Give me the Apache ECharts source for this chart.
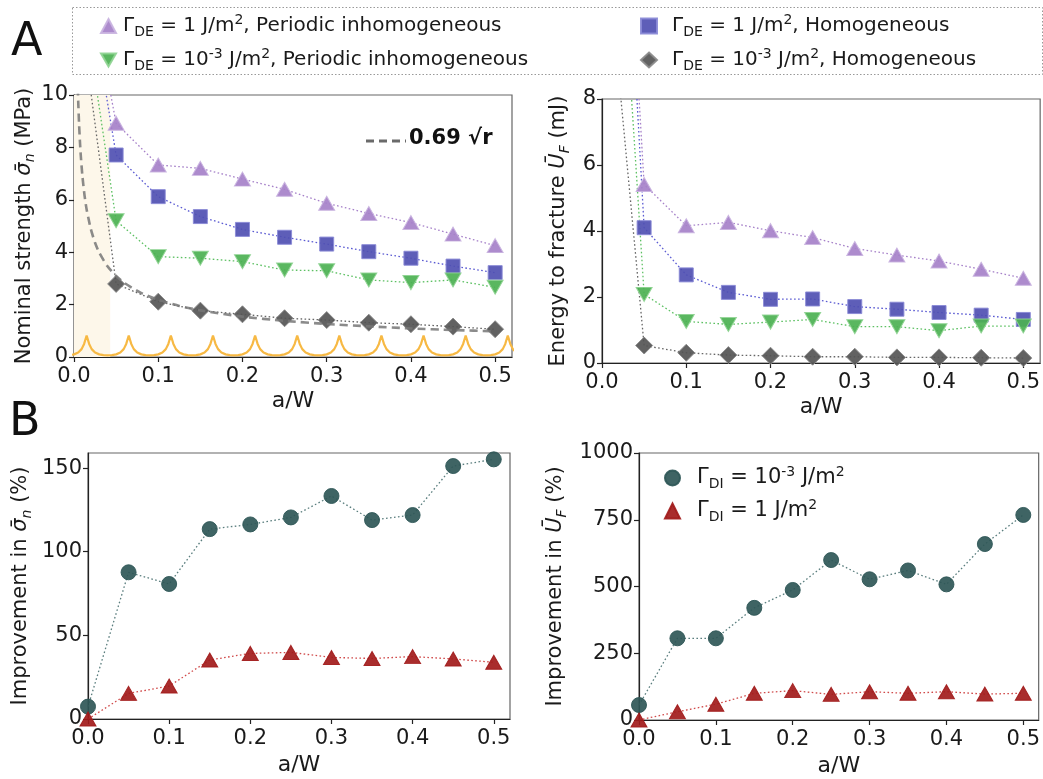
<!DOCTYPE html>
<html><head><meta charset="utf-8">
<script src="https://cdn.jsdelivr.net/npm/echarts@6/dist/echarts.min.js"></script>
<style>html,body{margin:0;padding:0;background:#fff}#c{width:1043px;height:779px}</style>
</head><body><div id="c"></div>
<script>
// ---------- data ----------
const aW = [0, 0.05, 0.10, 0.15, 0.20, 0.25, 0.30, 0.35, 0.40, 0.45, 0.50];
const xTicks = [0, 0.1, 0.2, 0.3, 0.4, 0.5];

// Panel A left: nominal strength (MPa)
const strengthPeriodic1 = [17.5, 8.92, 7.33, 7.20, 6.79, 6.40, 5.87, 5.48, 5.13, 4.69, 4.25];
const strengthHomog1    = [17.5, 7.71, 6.12, 5.36, 4.87, 4.57, 4.31, 4.02, 3.77, 3.47, 3.22];
const strengthPeriodic3 = [16.0, 5.20, 3.83, 3.77, 3.64, 3.32, 3.29, 2.94, 2.84, 2.94, 2.66];
const strengthHomog3    = [15.0, 2.79, 2.11, 1.77, 1.63, 1.48, 1.41, 1.31, 1.25, 1.16, 1.06];

// fit curve "0.69 sqrt r"
const fitX = [0.0045, 0.005, 0.006, 0.007, 0.008, 0.010, 0.0125, 0.015, 0.020, 0.025, 0.030, 0.040, 0.050, 0.060, 0.080, 0.100, 0.125, 0.150, 0.200, 0.250, 0.300, 0.350, 0.400, 0.450, 0.500];
const fitY = [10.29, 9.76, 8.91, 8.25, 7.71, 6.90, 6.17, 5.63, 4.88, 4.36, 3.98, 3.45, 3.09, 2.82, 2.44, 2.18, 1.95, 1.78, 1.54, 1.38, 1.26, 1.17, 1.09, 1.03, 0.98];

// periodic inhomogeneity profile (orange): peak positions and one period's shape
const ripplePeakX = [0.015, 0.065, 0.115, 0.165, 0.215, 0.265, 0.315, 0.365, 0.415, 0.465, 0.515];
const rippleDx = [-0.025, -0.02, -0.015, -0.01, -0.006, -0.003, 0, 0.003, 0.006, 0.01, 0.015, 0.02];
const rippleY  = [0.06, 0.07, 0.10, 0.17, 0.30, 0.50, 0.82, 0.50, 0.30, 0.17, 0.10, 0.07];
const shadedBand = [0, 0.043];

// Panel A right: energy to fracture (mJ)
const energyPeriodic1 = [27.0, 5.41, 4.16, 4.26, 4.01, 3.80, 3.47, 3.27, 3.09, 2.84, 2.57];
const energyHomog1    = [27.0, 4.10, 2.67, 2.14, 1.93, 1.94, 1.71, 1.63, 1.53, 1.45, 1.32];
const energyPeriodic3 = [22.0, 2.08, 1.26, 1.17, 1.24, 1.32, 1.10, 1.10, 0.98, 1.12, 1.12];
const energyHomog3    = [14.1, 0.53, 0.31, 0.24, 0.22, 0.19, 0.19, 0.17, 0.17, 0.16, 0.15];

// Panel B: improvement (%)
const impStrength3 = [7.4, 87.7, 80.7, 113.5, 116.3, 120.5, 133.3, 118.9, 121.9, 151.2, 155.2];
const impStrength1 = [0.0, 15.3, 19.7, 35.3, 39.2, 39.8, 36.8, 36.2, 37.3, 35.9, 33.9];
const impEnergy3   = [56, 306, 306, 420, 487, 599, 527, 560, 508, 659, 768];
const impEnergy1   = [0, 31, 59, 100, 110, 96, 106, 100, 106, 97, 100];

const yTicksBL = [0, 50, 100, 150];

// ---------- styling ----------
const F = 'DejaVu Sans';
const INK = '#1a1a1a';
function richSet(fs, gap) {
  return {
    g:    {width: gap || 0, fontSize: fs, lineHeight: 26},
    t:    {fontSize: fs, fontFamily: F, color: INK, lineHeight: 26},
    i:    {fontSize: fs, fontFamily: F, color: INK, fontStyle: 'italic', lineHeight: 26},
    sub:  {fontSize: Math.round(fs * 0.68), fontFamily: F, color: INK, verticalAlign: 'bottom', lineHeight: 13},
    subi: {fontSize: Math.round(fs * 0.68), fontFamily: F, color: INK, fontStyle: 'italic', verticalAlign: 'bottom', lineHeight: 13},
    sup:  {fontSize: Math.round(fs * 0.68), fontFamily: F, color: INK, verticalAlign: 'top', lineHeight: 13}
  };
}
const legendText = {
  p1: '{g| }{t|Γ}{sub|DE}{t| = 1 J/m}{sup|2}{t|, Periodic inhomogeneous}',
  p3: '{g| }{t|Γ}{sub|DE}{t| = 10}{sup|-3}{t| J/m}{sup|2}{t|, Periodic inhomogeneous}',
  h1: '{g| }{t|Γ}{sub|DE}{t| = 1 J/m}{sup|2}{t|, Homogeneous}',
  h3: '{g| }{t|Γ}{sub|DE}{t| = 10}{sup|-3}{t| J/m}{sup|2}{t|, Homogeneous}',
  c3: '{g| }{t|Γ}{sub|DI}{t| = 10}{sup|-3}{t| J/m}{sup|2}',
  t1: '{g| }{t|Γ}{sub|DI}{t| = 1 J/m}{sup|2}'
};

const DOWN_TRI = 'path://M0,0 L20,0 L10,17.32 Z';
const styles = {
  p1: {color: '#a681c9', border: '#c9b3e0', line: '#a681c9', symbol: 'triangle', size: [16, 14]},
  h1: {color: '#5050b2', border: '#8a8ad6', line: '#5a5ad2', symbol: 'rect', size: [14, 14]},
  p3: {color: '#4cb152', border: '#8fd492', line: '#5cc062', symbol: DOWN_TRI, size: [16, 14]},
  h3: {color: '#555555', border: '#8a8a8a', line: '#666666', symbol: 'diamond', size: [17, 17]},
  c3: {color: '#2f5757', border: '#2f5757', line: '#5a7e7e', symbol: 'circle', size: 15},
  t1: {color: '#a21b1b', border: '#a21b1b', line: '#d04a4a', symbol: 'triangle', size: [16, 14]}
};

function dataSeries(name, gi, ys, z) {
  const s = styles[name];
  return {
    type: 'line', name: name, xAxisIndex: gi, yAxisIndex: gi,
    data: aW.map((x, k) => [x, ys[k]]),
    symbol: s.symbol, symbolSize: s.size,
    itemStyle: {color: s.color, borderColor: s.border, borderWidth: 1, opacity: 0.92},
    lineStyle: {color: s.line, width: 1.3, type: [1.6, 2.4]},
    clip: true, z: z || 3, animation: false, emphasis: {disabled: true}
  };
}

const ripplePts = [];
ripplePeakX.forEach(p => rippleDx.forEach((d, k) => ripplePts.push([p + d, rippleY[k]])));
ripplePts.push([ripplePeakX[ripplePeakX.length - 1] + 0.025, rippleY[0]]);

function xAxisFor(gi, nameGap) {
  return {
    type: 'value', gridIndex: gi, min: 0, max: 0.52,
    name: 'a/W', nameLocation: 'middle', nameGap: nameGap,
    nameTextStyle: {fontFamily: F, fontSize: 22, color: INK},
    axisLine: {onZero: false, lineStyle: {color: '#222', width: 1.2}},
    axisTick: {customValues: xTicks, length: 5, lineStyle: {color: '#222', width: 1.2}},
    axisLabel: {customValues: xTicks, formatter: v => v.toFixed(1), fontFamily: F, fontSize: 21, color: INK, margin: 9},
    splitLine: {show: false}
  };
}
function yAxisFor(gi, opts, name, nameGap) {
  const ax = {
    type: 'value', gridIndex: gi, min: 0, max: opts.max,
    name: name, nameLocation: 'middle', nameGap: nameGap, nameRotate: 90,
    nameTextStyle: {rich: richSet(21)},
    axisLine: {onZero: false, lineStyle: {color: '#222', width: 1.2}},
    axisTick: {length: 5, lineStyle: {color: '#222', width: 1.2}},
    axisLabel: {fontFamily: F, fontSize: 21, color: INK, margin: 6, formatter: v => String(v)},
    splitLine: {show: false}
  };
  if (opts.interval) ax.interval = opts.interval;
  if (opts.ticks) { ax.axisTick.customValues = opts.ticks; ax.axisLabel.customValues = opts.ticks; }
  return ax;
}

const gridStyle = {show: true, borderColor: '#666', borderWidth: 1.2, backgroundColor: 'transparent', containLabel: false};

const option = {
  animation: false,
  backgroundColor: '#fff',
  grid: [
    Object.assign({left: 74, top: 95, width: 438, height: 262}, gridStyle),
    Object.assign({left: 602, top: 99, width: 441, height: 264}, gridStyle),
    Object.assign({left: 88, top: 453, width: 422, height: 266}, gridStyle),
    Object.assign({left: 639, top: 453, width: 404, height: 267}, gridStyle)
  ],
  xAxis: [xAxisFor(0, 33), xAxisFor(1, 33), xAxisFor(2, 35), xAxisFor(3, 35)],
  yAxis: [
    yAxisFor(0, {max: 10, interval: 2}, '{t|Nominal strength }{i|σ̄}{subi|n}{t| (MPa)}', 36),
    yAxisFor(1, {max: 8, interval: 2}, '{t|Energy to fracture }{i|Ū}{subi|F}{t| (mJ)}', 30),
    yAxisFor(2, {max: 159, ticks: yTicksBL}, '{t|Improvement in }{i|σ̄}{subi|n}{t| (%)}', 54),
    yAxisFor(3, {max: 1000, interval: 250}, '{t|Improvement in }{i|Ū}{subi|F}{t| (%)}', 70)
  ],
  legend: [
    {left: 95, top: 8, orient: 'vertical', itemGap: 8, itemWidth: 15, itemHeight: 14, selectedMode: false,
     data: [{name: 'p1', icon: 'triangle'}, {name: 'p3', icon: DOWN_TRI}],
     formatter: n => legendText[n], textStyle: {rich: richSet(20, 2)}},
    {left: 635, top: 8, orient: 'vertical', itemGap: 8, itemWidth: 16, itemHeight: 15, selectedMode: false,
     data: [{name: 'h1', icon: 'rect'}, {name: 'h3', icon: 'diamond'}],
     formatter: n => legendText[n], textStyle: {rich: richSet(20, 10)}},
    {left: 659, top: 460, orient: 'vertical', itemGap: 7, itemWidth: 15, itemHeight: 15, selectedMode: false,
     data: [{name: 'c3', icon: 'circle'}, {name: 't1', icon: 'triangle'}],
     formatter: n => legendText[n], textStyle: {rich: richSet(21, 12)}}
  ],
  graphic: [
    {type: 'rect', left: 70, top: 5, shape: {width: 970, height: 67},
     style: {fill: 'none', stroke: '#999', lineWidth: 1, lineDash: [1.5, 2]}, z: 1},
    {type: 'text', left: 11, top: 20, style: {text: 'A', font: '46px "DejaVu Sans"', fill: '#111'}},
    {type: 'text', left: 9, top: 400, style: {text: 'B', font: '46px "DejaVu Sans"', fill: '#111'}},
    {type: 'line', shape: {x1: 366, y1: 141, x2: 406, y2: 141},
     style: {stroke: '#6a6a6a', lineWidth: 3, lineDash: [8, 5]}},
    {type: 'text', left: 409, top: 128, style: {text: '0.69 √r', font: 'bold 21px "DejaVu Sans"', fill: '#111'}}
  ],
  series: [
    {type: 'line', name: 'profile', xAxisIndex: 0, yAxisIndex: 0, data: ripplePts, symbol: 'none',
     lineStyle: {color: '#f7b944', width: 2.2}, clip: true, z: 2, silent: true,
     markArea: {silent: true, itemStyle: {color: '#fdf7ea', opacity: 1}, data: [[{xAxis: shadedBand[0]}, {xAxis: shadedBand[1]}]]}},
    dataSeries('p1', 0, strengthPeriodic1),
    dataSeries('h1', 0, strengthHomog1),
    dataSeries('p3', 0, strengthPeriodic3),
    dataSeries('h3', 0, strengthHomog3),
    {type: 'line', name: 'fit', xAxisIndex: 0, yAxisIndex: 0, data: fitX.map((x, k) => [x, fitY[k]]),
     symbol: 'none', smooth: 0.2, lineStyle: {color: '#777777', width: 2.6, type: [8, 5], opacity: 0.85}, clip: true, z: 4, silent: true},
    dataSeries('p1', 1, energyPeriodic1),
    dataSeries('h1', 1, energyHomog1),
    dataSeries('p3', 1, energyPeriodic3),
    dataSeries('h3', 1, energyHomog3),
    dataSeries('c3', 2, impStrength3),
    dataSeries('t1', 2, impStrength1),
    dataSeries('c3', 3, impEnergy3),
    dataSeries('t1', 3, impEnergy1)
  ]
};
const chart = echarts.init(document.getElementById('c'));
chart.setOption(option);
</script>
</body></html>
